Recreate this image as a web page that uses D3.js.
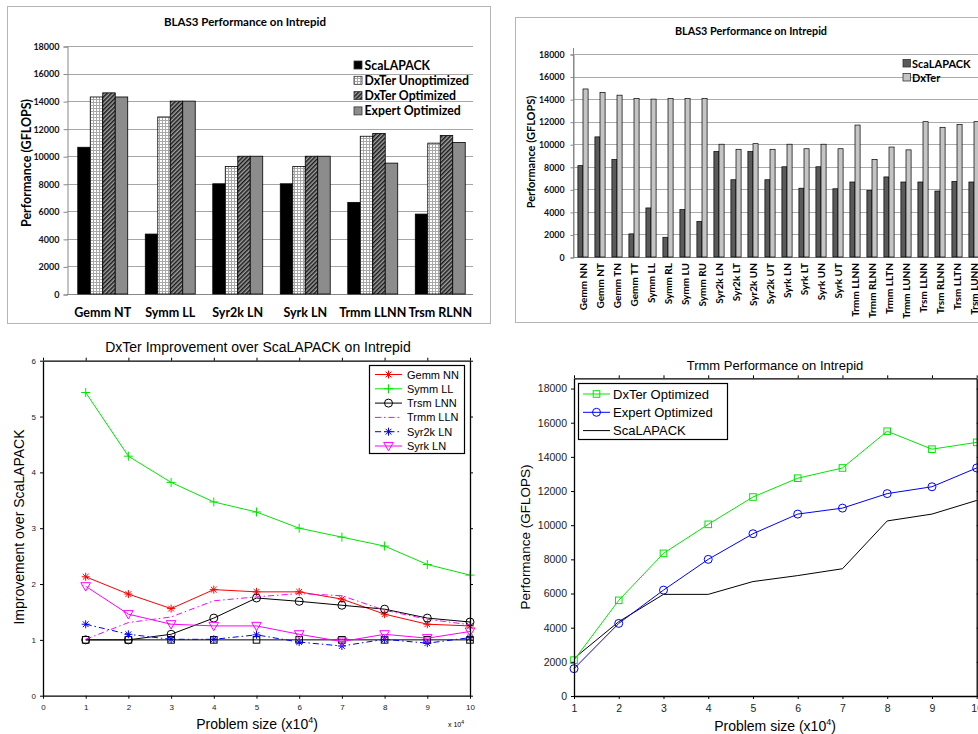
<!DOCTYPE html>
<html><head><meta charset="utf-8">
<script src="https://cdn.jsdelivr.net/npm/d3@7"></script>
<style>body{margin:0;background:#fff}svg{display:block}</style>
</head><body><svg id="c" width="978" height="734"></svg>
<script>
// ---------- DATA ----------
// Chart 1 (top-left)
const c1Categories = ["Gemm NT","Symm LL","Syr2k LN","Syrk LN","Trmm LLNN","Trsm RLNN"];
const c1Series = ["ScaLAPACK","DxTer Unoptimized","DxTer Optimized","Expert Optimized"];
const c1ScaLAPACK = [10650,4350,8000,8000,6650,5800];
const c1DxTerUnopt = [14300,12850,9250,9250,11450,10950];
const c1DxTerOpt   = [14600,14000,10000,10000,11650,11500];
const c1Expert     = [14300,14000,10000,10000,9500,11000];
const c1Ticks = [0,2000,4000,6000,8000,10000,12000,14000,16000,18000];

// Chart 2 (top-right)
const c2Categories = ["Gemm NN","Gemm NT","Gemm TN","Gemm TT","Symm LL","Symm RL","Symm LU","Symm RU",
  "Syr2k LN","Syr2k LT","Syr2k UN","Syr2k UT","Syrk LN","Syrk LT","Syrk UN","Syrk UT",
  "Trmm LLNN","Trmm RLNN","Trmm LLTN","Trmm LUNN","Trsm LLNN","Trsm RLNN","Trsm LLTN","Trsm LUNN"];
const c2Series = ["ScaLAPACK","DxTer"];
const c2ScaLAPACK = [8100,10650,8650,2050,4350,1750,4200,3150,9350,6850,9350,6850,8000,6100,8000,6050,6650,5900,7100,6650,6650,5850,6700,6650];
const c2DxTer     = [14900,14600,14350,14050,14000,14050,14050,14050,10000,9550,10050,9550,10000,9600,10000,9600,11700,8650,9750,9500,12000,11500,11750,12000];
const c2Ticks = [0,2000,4000,6000,8000,10000,12000,14000,16000,18000];

// Chart 3 (bottom-left)
const c3X = [1,2,3,4,5,6,7,8,9,10];
const c3GemmNN  = [2.13,1.82,1.56,1.90,1.86,1.86,1.73,1.46,1.28,1.25];
const c3SymmLL  = [5.43,4.29,3.82,3.47,3.29,3.00,2.84,2.68,2.35,2.16];
const c3TrsmLNN = [1.00,1.00,1.10,1.39,1.75,1.69,1.62,1.55,1.39,1.32];
const c3TrmmLLN = [1.01,1.31,1.41,1.70,1.77,1.83,1.79,1.53,1.37,1.27];
const c3Syr2kLN = [1.28,1.10,1.01,1.01,1.09,0.96,0.89,1.01,0.94,1.04];
const c3SyrkLN  = [1.96,1.46,1.28,1.25,1.25,1.10,0.97,1.10,1.03,1.15];
const c3Baseline = [1,1,1,1,1,1,1,1,1,1];
const c3XTicks = [0,1,2,3,4,5,6,7,8,9,10];
const c3YTicks = [0,1,2,3,4,5,6];

// Chart 4 (bottom-right)
const c4X = [1,2,3,4,5,6,7,8,9,10];
const c4DxTerOpt  = [2100,5600,8350,10050,11650,12750,13350,15500,14450,14850];
const c4ExpertOpt = [1600,4250,6200,8000,9500,10650,11000,11850,12250,13350];
const c4ScaLAPACK = [2200,4350,5950,5950,6700,7050,7450,10250,10650,11450];
const c4YTicks = [0,2000,4000,6000,8000,10000,12000,14000,16000,18000];

// ---------- DRAW ----------
const svg = d3.select("#c");
const defs = svg.append("defs");
const XL = "Lato, 'Open Sans', sans-serif";
const ML = "'Liberation Sans', Arial, sans-serif";

const pGrid = defs.append("pattern").attr("id","pGrid").attr("patternUnits","userSpaceOnUse").attr("width",3).attr("height",3);
pGrid.append("rect").attr("width",3).attr("height",3).attr("fill","#fff");
pGrid.append("path").attr("d","M0,0.5H3M0.5,0V3").attr("stroke","#a8a8a8").attr("stroke-width",1);
const pHatch = defs.append("pattern").attr("id","pHatch").attr("patternUnits","userSpaceOnUse").attr("width",3).attr("height",3).attr("patternTransform","rotate(45)");
pHatch.append("rect").attr("width",3).attr("height",3).attr("fill","#a0a0a0");
pHatch.append("line").attr("x1",0.75).attr("y1",0).attr("x2",0.75).attr("y2",3).attr("stroke","#1a1a1a").attr("stroke-width",1.5);

// ===== Chart 1 =====
(function(){
  const g = svg.append("g");
  g.append("rect").attr("x",7.5).attr("y",6.5).attr("width",483).attr("height",317).attr("fill","#fff").attr("stroke","#b5b5b5");
  g.append("text").attr("x",245).attr("y",26).attr("text-anchor","middle").attr("font-family",XL).attr("font-weight","bold").attr("font-size",11.5).text("BLAS3 Performance on Intrepid");
  const y = d3.scaleLinear().domain([0,18000]).range([294,46]);
  const x = d3.scaleBand().domain(c1Categories).range([69,474]).paddingInner(0.26).paddingOuter(0.13);
  const xs = d3.scaleBand().domain(c1Series).range([0,x.bandwidth()]);
  g.selectAll("line.grid").data(c1Ticks.slice(1)).join("line").attr("class","grid")
    .attr("x1",67).attr("x2",473).attr("y1",d=>Math.round(y(d))+0.5).attr("y2",d=>Math.round(y(d))+0.5)
    .attr("stroke","#a6a6a6").attr("stroke-width",1);
  const ax = g.append("g").attr("transform","translate(67.5,0.5)")
    .call(d3.axisLeft(y).tickValues(c1Ticks).tickSize(4).tickPadding(4).tickFormat(d3.format("d")));
  ax.select(".domain").attr("stroke","#888");
  ax.selectAll(".tick line").attr("stroke","#888");
  ax.selectAll("text").attr("font-family",XL).attr("font-weight","bold").attr("font-size",9).attr("fill","#111");
  g.append("line").attr("x1",67).attr("x2",473).attr("y1",294.5).attr("y2",294.5).attr("stroke","#888");
  const vals = [c1ScaLAPACK,c1DxTerUnopt,c1DxTerOpt,c1Expert];
  const fills = ["#000","url(#pGrid)","url(#pHatch)","#8c8c8c"];
  c1Series.forEach((s,si)=>{
    g.selectAll("rect.b"+si).data(c1Categories).join("rect").attr("class","b"+si)
      .attr("x",d=>x(d)+xs(s)).attr("width",xs.bandwidth())
      .attr("y",(d,i)=>y(vals[si][i])).attr("height",(d,i)=>y(0)-y(vals[si][i]))
      .attr("fill",fills[si]).attr("stroke","#000").attr("stroke-width",0.8);
  });
  g.selectAll("text.cat").data(c1Categories).join("text").attr("class","cat")
    .attr("x",d=>x(d)+x.bandwidth()/2).attr("y",317).attr("text-anchor","middle")
    .attr("font-family",XL).attr("font-weight","bold").attr("font-size",12.5).text(d=>d);
  g.append("text").attr("transform","translate(31,163) rotate(-90)").attr("text-anchor","middle")
    .attr("font-family",XL).attr("font-weight","bold").attr("font-size",12.5).text("Performance (GFLOPS)");
  const lg = g.append("g");
  c1Series.forEach((s,i)=>{
    const yy = 68 + i*15.3;
    lg.append("rect").attr("x",354).attr("y",yy-7).attr("width",8).attr("height",8).attr("fill",fills[i]).attr("stroke","#333").attr("stroke-width",0.8);
    lg.append("text").attr("x",364.5).attr("y",yy+1.5).attr("font-family",XL).attr("font-weight","bold").attr("font-size",12.3).text(s);
  });
})();

// ===== Chart 2 =====
(function(){
  const g = svg.append("g");
  g.append("rect").attr("x",515.5).attr("y",17.5).attr("width",480).attr("height",305).attr("fill","#fff").attr("stroke","#b5b5b5");
  g.append("text").attr("x",751).attr("y",35).attr("text-anchor","middle").attr("font-family",XL).attr("font-weight","bold").attr("font-size",10.8).text("BLAS3 Performance on Intrepid");
  const y = d3.scaleLinear().domain([0,18000]).range([257,54]);
  const x = d3.scaleBand().domain(c2Categories).range([574.5,982.5]).paddingInner(0.4).paddingOuter(0.2);
  const xs = d3.scaleBand().domain(c2Series).range([0,x.bandwidth()]);
  g.selectAll("line.grid").data(c2Ticks.slice(1)).join("line").attr("class","grid")
    .attr("x1",573).attr("x2",978).attr("y1",d=>Math.round(y(d))+0.5).attr("y2",d=>Math.round(y(d))+0.5)
    .attr("stroke","#aaa").attr("stroke-width",1);
  const ax = g.append("g").attr("transform","translate(573.5,0.5)")
    .call(d3.axisLeft(y).tickValues(c2Ticks).tickSize(3).tickPadding(6).tickFormat(d3.format("d")));
  ax.select(".domain").attr("stroke","#888");
  ax.selectAll(".tick line").attr("stroke","#888");
  ax.selectAll("text").attr("font-family",XL).attr("font-weight","bold").attr("font-size",8.8).attr("fill","#111");
  g.append("line").attr("x1",573.5).attr("x2",573.5).attr("y1",48).attr("y2",257).attr("stroke","#888");
  g.append("line").attr("x1",573).attr("x2",978).attr("y1",257.5).attr("y2",257.5).attr("stroke","#888");
  const vals = [c2ScaLAPACK,c2DxTer];
  const fills = ["#5a5a5a","#c4c4c4"];
  c2Series.forEach((s,si)=>{
    g.selectAll("rect.b"+si).data(c2Categories).join("rect").attr("class","b"+si)
      .attr("x",d=>x(d)+xs(s)).attr("width",xs.bandwidth())
      .attr("y",(d,i)=>y(vals[si][i])).attr("height",(d,i)=>y(0)-y(vals[si][i]))
      .attr("fill",fills[si]).attr("stroke","#000").attr("stroke-width",0.7);
  });
  g.selectAll("text.cat").data(c2Categories).join("text").attr("class","cat")
    .attr("transform",d=>`translate(${x(d)+x.bandwidth()/2},263) rotate(-90)`)
    .attr("text-anchor","end").attr("dy","0.36em")
    .attr("font-family",XL).attr("font-weight","bold").attr("font-size",10).text(d=>d);
  g.append("text").attr("transform","translate(535,152) rotate(-90)").attr("text-anchor","middle")
    .attr("font-family",XL).attr("font-weight","bold").attr("font-size",11).text("Performance (GFLOPS)");
  c2Series.forEach((s,i)=>{
    const yy = 66 + i*14;
    g.append("rect").attr("x",903).attr("y",yy-6.5).attr("width",7.5).attr("height",7.5).attr("fill",fills[i]).attr("stroke","#333").attr("stroke-width",0.8);
    g.append("text").attr("x",912).attr("y",yy+1.5).attr("font-family",XL).attr("font-weight","bold").attr("font-size",11).text(s);
  });
})();

// marker helper
function marker(g, type, cx, cy, color, s){
  s = s || 4;
  if(type==="star"){
    const d = s*0.72;
    g.append("path").attr("d",`M${cx-s},${cy}H${cx+s}M${cx},${cy-s}V${cy+s}M${cx-d},${cy-d}L${cx+d},${cy+d}M${cx-d},${cy+d}L${cx+d},${cy-d}`).attr("stroke",color).attr("stroke-width",1).attr("fill","none");
  } else if(type==="plus"){
    g.append("path").attr("d",`M${cx-s},${cy}H${cx+s}M${cx},${cy-s}V${cy+s}`).attr("stroke",color).attr("stroke-width",1).attr("fill","none");
  } else if(type==="circle"){
    g.append("circle").attr("cx",cx).attr("cy",cy).attr("r",s).attr("stroke",color).attr("stroke-width",1).attr("fill","none");
  } else if(type==="square"){
    g.append("rect").attr("x",cx-s).attr("y",cy-s).attr("width",2*s).attr("height",2*s).attr("stroke",color).attr("stroke-width",1).attr("fill","none");
  } else if(type==="tri"){
    g.append("path").attr("d",`M${cx-s*1.15},${cy-s*0.85}L${cx+s*1.15},${cy-s*0.85}L${cx},${cy+s*1.15}Z`).attr("stroke",color).attr("stroke-width",1).attr("fill","none");
  }
}

function matlabAxes(g, x, y, xt, yt, fs, xpad, ypad){
  const [x0,x1] = x.range(), [y0,y1] = y.range();
  const b = g.append("g").attr("transform",`translate(0,${y0})`).call(d3.axisBottom(x).tickValues(xt).tickSize(3).tickSizeOuter(0).tickPadding(xpad));
  const t = g.append("g").attr("transform",`translate(0,${y1})`).call(d3.axisTop(x).tickValues(xt).tickSize(3).tickSizeOuter(0).tickFormat(""));
  const l = g.append("g").attr("transform",`translate(${x0},0)`).call(d3.axisLeft(y).tickValues(yt).tickSize(3).tickSizeOuter(0).tickPadding(ypad).tickFormat(d3.format("d")));
  const r = g.append("g").attr("transform",`translate(${x1},0)`).call(d3.axisRight(y).tickValues(yt).tickSize(3).tickSizeOuter(0).tickFormat(""));
  [b,t,l,r].forEach(a=>{
    a.select(".domain").attr("stroke","#000").attr("stroke-width",1.3);
    a.selectAll(".tick line").attr("stroke","#000");
    a.selectAll("text").attr("font-family",ML).attr("font-size",fs).attr("fill","#222");
  });
}

// ===== Chart 3 =====
(function(){
  const g = svg.append("g");
  const x = d3.scaleLinear().domain([0,10]).range([43,470]);
  const y = d3.scaleLinear().domain([0,6]).range([695.7,360.7]);
  g.append("text").attr("x",258).attr("y",352).attr("text-anchor","middle").attr("font-family",ML).attr("font-size",14).text("DxTer Improvement over ScaLAPACK on Intrepid");
  const series = [
    {name:null, v:c3Baseline, color:"#000", m:"square", dash:null, ms:3.3},
    {name:"Gemm NN", v:c3GemmNN, color:"#ff0000", m:"star", dash:null, ms:4},
    {name:"Symm LL", v:c3SymmLL, color:"#00e600", m:"plus", dash:null, ms:4.5},
    {name:"Trsm LNN", v:c3TrsmLNN, color:"#000", m:"circle", dash:null, ms:4},
    {name:"Trmm LLN", v:c3TrmmLLN, color:"#ff00ff", m:null, dash:"6,3,1.5,3", ms:0},
    {name:"Syr2k LN", v:c3Syr2kLN, color:"#0000ff", m:"star", dash:"6,3,1.5,3", ms:4},
    {name:"Syrk LN", v:c3SyrkLN, color:"#ff00ff", m:"tri", dash:null, ms:4.2}
  ];
  const line = d3.line().x((d,i)=>x(c3X[i])).y(d=>y(d));
  series.forEach(s=>{
    g.append("path").attr("d",line(s.v)).attr("fill","none").attr("stroke",s.color).attr("stroke-width",1).attr("stroke-dasharray",s.dash);
    if(s.m) s.v.forEach((d,i)=>marker(g,s.m,x(c3X[i]),y(d),s.color,s.ms));
  });
  matlabAxes(g, x, y, c3XTicks, c3YTicks, 8, 6, 4);
  const lg = g.append("g");
  lg.append("rect").attr("x",369.5).attr("y",365.5).attr("width",95).attr("height",88).attr("fill","#fff").attr("stroke","#000").attr("stroke-width",1.2);
  series.filter(s=>s.name).forEach((s,i)=>{
    const yy = 374.5 + i*14.3;
    lg.append("line").attr("x1",375).attr("x2",402).attr("y1",yy).attr("y2",yy).attr("stroke",s.color).attr("stroke-width",1).attr("stroke-dasharray",s.dash);
    if(s.m) marker(lg,s.m,388.5,yy,s.color,s.ms);
    lg.append("text").attr("x",407).attr("y",yy+4).attr("font-family",ML).attr("font-size",11).text(s.name);
  });
  const xt = g.append("text").attr("x",257).attr("y",729).attr("text-anchor","middle").attr("font-family",ML).attr("font-size",14);
  xt.append("tspan").text("Problem size (x10");
  xt.append("tspan").attr("font-size",9).attr("dy",-6).text("4");
  xt.append("tspan").attr("dy",6).text(")");
  const sm = g.append("text").attr("x",448).attr("y",727).attr("font-family",ML).attr("font-size",7);
  sm.append("tspan").text("x 10");
  sm.append("tspan").attr("font-size",5).attr("dy",-3).text("4");
  g.append("text").attr("transform","translate(24,527) rotate(-90)").attr("text-anchor","middle").attr("font-family",ML).attr("font-size",14).text("Improvement over ScaLAPACK");
})();

// ===== Chart 4 =====
(function(){
  const g = svg.append("g");
  const x = d3.scaleLinear().domain([1,10]).range([574,976.7]);
  const y = d3.scaleLinear().domain([0,18600]).range([696,378.3]);
  g.append("text").attr("x",775).attr("y",369.5).attr("text-anchor","middle").attr("font-family",ML).attr("font-size",13).text("Trmm Performance on Intrepid");
  const series = [
    {name:"DxTer Optimized", v:c4DxTerOpt, color:"#00e600", m:"square", ms:3.3},
    {name:"Expert Optimized", v:c4ExpertOpt, color:"#0000ff", m:"circle", ms:4},
    {name:"ScaLAPACK", v:c4ScaLAPACK, color:"#000", m:null, ms:0}
  ];
  const line = d3.line().x((d,i)=>x(c4X[i])).y(d=>y(d));
  series.slice().reverse().forEach(s=>{
    g.append("path").attr("d",line(s.v)).attr("fill","none").attr("stroke",s.color).attr("stroke-width",1);
    if(s.m) s.v.forEach((d,i)=>marker(g,s.m,x(c4X[i]),y(d),s.color,s.ms));
  });
  matlabAxes(g, x, y, c4X, c4YTicks, 10.5, 5.5, 4);
  const lg = g.append("g");
  lg.append("rect").attr("x",578.5).attr("y",383.5).attr("width",149).attr("height",56).attr("fill","#fff").attr("stroke","#000").attr("stroke-width",1.2);
  series.forEach((s,i)=>{
    const yy = 394 + i*18.3;
    lg.append("line").attr("x1",583).attr("x2",610).attr("y1",yy).attr("y2",yy).attr("stroke",s.color).attr("stroke-width",1);
    if(s.m) marker(lg,s.m,596.5,yy,s.color,s.ms);
    lg.append("text").attr("x",613).attr("y",yy+4.8).attr("font-family",ML).attr("font-size",13).text(s.name);
  });
  const xt = g.append("text").attr("x",775).attr("y",731).attr("text-anchor","middle").attr("font-family",ML).attr("font-size",14);
  xt.append("tspan").text("Problem size (x10");
  xt.append("tspan").attr("font-size",9).attr("dy",-6).text("4");
  xt.append("tspan").attr("dy",6).text(")");
  g.append("text").attr("transform","translate(530,537) rotate(-90)").attr("text-anchor","middle").attr("font-family",ML).attr("font-size",13.5).text("Performance (GFLOPS)");
})();
</script></body></html>
